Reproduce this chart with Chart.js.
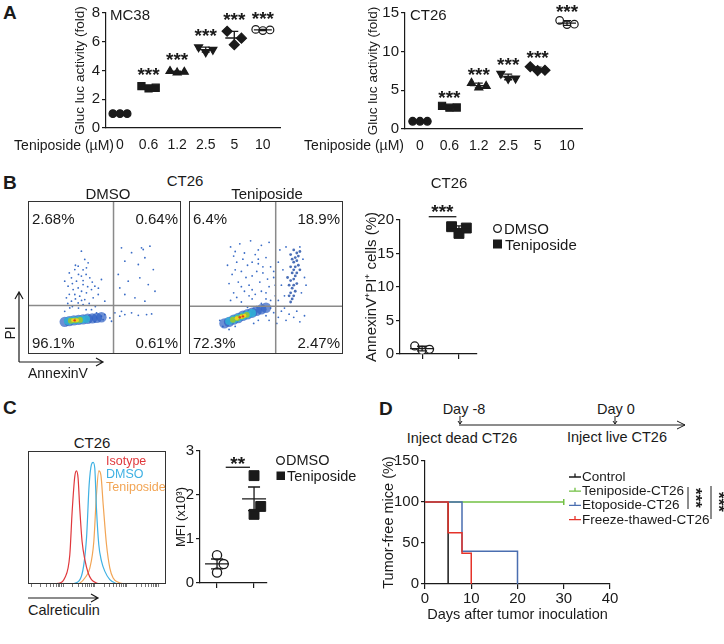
<!DOCTYPE html>
<html>
<head>
<meta charset="utf-8">
<title>Teniposide panels</title>
<script src="https://cdn.jsdelivr.net/npm/chart.js@4.4.1/dist/chart.umd.min.js"></script>
<style>
  body { margin: 0; width: 724px; height: 644px; position: relative; overflow: hidden; background: #fff;
         font-family: "Liberation Sans", Arial, sans-serif; color: #1a1a1a; }
  canvas, .lbl, svg { position: absolute; }
  .lbl { white-space: nowrap; line-height: 1; font-size: 14px; }
</style>
</head>
<body>
<svg id="marks" width="724" height="644" style="left:0;top:0" fill="none" stroke="#1a1a1a" stroke-width="1.2"></svg>
<script>
// ---------- data ----------
// A: Gluc luc activity (fold), three wells per dose
const doses = ['0', '0.6', '1.2', '2.5', '5', '10'];
const mc38Fold = [[1.0, 1.0, 1.0], [2.92, 2.75, 2.8], [3.95, 3.85, 3.9], [5.62, 5.28, 5.45], [6.73, 5.8, 6.25], [6.86, 6.78, 6.82]];
const ct26Fold = [[1.0, 1.0, 1.0], [3.0, 2.75, 2.78], [5.95, 5.35, 5.55], [7.15, 6.5, 6.55], [8.05, 7.55, 7.6], [14.05, 13.5, 13.55]];
const mc38Ticks = [0, 2, 4, 6, 8];
const ct26Ticks = [0, 5, 10, 15];

// B: flow quadrants (AnnexinV x, PI y on a 0-100 display scale)
const quadDmso = ['2.68%', '0.64%', '96.1%', '0.61%'];
const quadTeni = ['6.4%', '18.9%', '72.3%', '2.47%'];
const gateDmso = [55.9, 31.7];
const gateTeni = [56.3, 31.2];
const flowDmsoSparse = [
  [34.9, 67.2], [37.1, 61.8], [32.8, 57.4], [30.6, 55.2], [38.2, 56.3], [28.4, 49.8], [31.7, 47.6], [34.9, 50.9],
  [40.4, 49.8], [26.2, 44.3], [29.5, 42.1], [32.8, 43.2], [36.0, 45.4], [30.6, 38.9], [33.8, 37.8], [38.2, 40.0],
  [41.5, 42.1], [25.1, 36.7], [28.4, 34.5], [32.8, 33.4], [37.1, 35.6], [42.6, 36.7], [45.9, 38.9], [27.3, 30.1],
  [36.0, 32.3], [50.2, 34.5], [24.0, 47.6], [39.3, 59.6], [43.7, 44.3], [48.0, 48.7], [27, 53], [33, 52], [36, 55],
  [29, 46], [35, 41], [39, 44], [27, 39], [31, 36], [35, 35], [40, 33], [44, 31], [29, 31], [33, 30], [38, 29],
  [31, 58], [36, 48], [42, 47], [46, 43], [26, 33], [38, 52],
  [61.1, 69.4], [67.7, 66.2], [74.2, 69.4], [79.7, 70.5], [63.3, 60.7], [72.1, 58.5], [76.4, 62.9], [81.9, 55.2],
  [59.0, 52.0], [65.5, 47.6], [73.1, 49.8], [78.6, 45.4], [63.3, 38.9], [69.9, 36.7], [76.4, 34.5], [83.0, 41.0],
  [60.0, 43.2], [75.3, 68.3],
  [50.2, 25.8], [53.5, 23.6], [56.8, 26.9], [60.0, 24.7], [63.3, 25.8], [67.7, 26.9], [72.1, 25.3], [77.5, 25.8],
  [80.8, 26.2], [54.6, 21.4], [61.1, 27.9], [24.0, 27.9], [41.5, 29.0], [44.8, 26.9], [48.0, 24.7], [25.1, 19.2],
  [43.7, 21.0], [49.1, 22.5]
];
const flowDmsoCore = [
  [[30.5, 22]],
  [[29.5, 22], [32, 22.1]],
  [[28, 21.8], [31, 22], [34, 22.3]],
  [[26, 21.5], [29, 22], [32, 22.2], [35, 22.5], [38, 22.8]],
  [[24, 21], [27, 21.5], [30, 22], [33, 22.3], [36, 22.6], [39, 23], [42, 23.3], [45, 23.6], [48, 24]]
];
const flowTeniSparse = [
  [27, 70], [33, 72], [40, 74], [47, 71], [52, 73], [29, 64], [36, 66], [43, 65], [50, 63], [25, 58], [31, 60],
  [38, 58], [45, 59], [53, 57], [28, 52], [34, 54], [41, 51], [48, 53], [55, 50], [26, 46], [32, 47], [39, 45],
  [46, 47], [52, 44], [29, 40], [36, 41], [43, 39], [50, 40], [56, 38], [27, 35], [34, 34], [41, 36], [47, 33],
  [53, 35], [38, 30.5], [44, 31], [30, 67], [45, 68], [35, 62], [41, 60], [48, 57], [30, 55], [37, 50], [44, 54],
  [51, 49], [34, 44], [41, 42], [47, 41], [31, 37], [39, 38], [50, 36], [45, 62], [56, 45], [55, 54],
  [58, 60], [61, 55], [60, 45], [62, 38], [74, 62], [75, 50], [73, 40], [59, 68], [63, 70], [72, 70], [76, 45], [58, 35],
  [55, 27], [58, 24], [60, 28], [63, 22], [65, 26], [68, 24], [70, 28], [72, 21], [62, 30], [57, 20], [52, 22], [75, 25],
  [22, 18], [26, 16], [45, 22], [50, 25], [53, 30], [20, 22], [30, 18], [42, 20]
];
const flowTeniColumn = [
  [66, 34], [67, 36], [65, 38], [68, 38], [66, 40], [69, 41], [67, 43], [65, 45], [68, 45], [70, 46], [66, 48],
  [68, 49], [69, 51], [67, 53], [70, 53], [68, 55], [66, 57], [69, 57], [71, 58], [68, 60], [70, 61], [69, 63],
  [71, 64], [67, 62], [70, 66], [72, 67], [64, 50], [72, 55], [66, 65], [68, 68]
];
const flowTeniCore = [
  [[33, 24], [35, 24.6]],
  [[31, 23.3], [34, 24.4], [36, 25]],
  [[28.5, 22.4], [31.5, 23.5], [34.5, 24.6], [37.5, 25.6]],
  [[26, 21.5], [29, 22.6], [32, 23.7], [35, 24.8], [38, 25.8], [41, 26.8]],
  [[23, 20], [26, 21], [29, 22.5], [32, 23.5], [35, 25], [38, 26], [41, 27], [44, 28.2], [47, 29.2], [50, 30.2]]
];

// B right: AnnexinV+PI+ cells (%)
const groups = ['DMSO', 'Teniposide'];
const apoDmso = [1.2, 0.55, 0.7];
const apoTeni = [19.0, 18.0, 18.8];
const apoTicks = [0, 5, 10, 15, 20];

// C: calreticulin histograms (channel on 0-100 display scale, % of max)
const histIsotype = [[18, 0], [22, 0.5], [26.6, 4.5], [30.3, 22], [32, 54.5], [33.9, 80.8], [35.1, 85], [36.3, 79.5],
  [37.5, 57], [39.2, 32], [41.2, 18.3], [43.6, 8.3], [46, 3.3], [49.6, 0.8], [53.3, 0]];
const histDmso = [[32, 0], [33.9, 0.5], [38.7, 5.8], [42.4, 34.5], [44.3, 74.5], [46, 90], [47.2, 91.5], [48.4, 87],
  [49.6, 57], [51.3, 29.5], [53.3, 17], [55.7, 9.5], [59.3, 3.3], [63, 0.8], [66.6, 0]];
const histTeniposide = [[36, 0], [37.5, 0.5], [41.2, 4.5], [44.8, 12], [47.7, 32], [49.6, 67], [51.3, 85], [52.8, 82],
  [54.5, 59.5], [56.9, 29.5], [59.3, 12], [61.7, 4.5], [65.4, 1.3], [70.2, 0]];
const histNames = ['Isotype', 'DMSO', 'Teniposide'];
const mfiDmso = [0.63, 0.43, 0.24];
const mfiTeni = [2.44, 1.74, 1.56];
const mfiTicks = [0, 1, 2, 3];

// D: tumor-free survival
const kmNames = ['Control', 'Teniposide-CT26', 'Etoposide-CT26', 'Freeze-thawed-CT26'];
const kmControl = [[0, 100], [5, 0]];
const kmTeniposide = [[0, 100], [30, 100]];
const kmEtoposide = [[0, 100], [8, 40], [20, 0]];
const kmFreeze = [[0, 100], [5, 62.5], [8, 37.5], [10, 0]];
const kmCensored = [null, 30, null, null];
const kmDayTicks = [0, 10, 20, 30, 40];
const kmPctTicks = [0, 50, 100, 150];

// ---------- helpers ----------
const ink = '#1a1a1a';
const FONT = '"Liberation Sans", Arial, sans-serif';
Chart.defaults.font.family = FONT;
Chart.defaults.color = ink;
Chart.defaults.animation = false;
Chart.defaults.responsive = false;
Chart.defaults.plugins.legend.display = false;
Chart.defaults.plugins.tooltip.enabled = false;

function mk(left, top, w, h) {
  const c = document.createElement('canvas');
  c.width = w; c.height = h;
  c.style.left = left + 'px'; c.style.top = top + 'px';
  document.body.appendChild(c);
  return c;
}

function label(text, x, y, o = {}) {
  const d = document.createElement('div');
  d.className = 'lbl';
  d.textContent = text;
  d.style.left = x + 'px';
  d.style.top = y + 'px';
  d.style.fontSize = (o.size || 14) + 'px';
  if (o.bold) d.style.fontWeight = 'bold';
  if (o.color) d.style.color = o.color;
  const tx = o.align === 'c' ? '-50%' : o.align === 'r' ? '-100%' : '0';
  d.style.transform = 'translate(' + tx + ',-50%)' + (o.rot ? ' rotate(' + o.rot + 'deg)' : '');
  document.body.appendChild(d);
}

const svg = document.getElementById('marks');
function draw(tag, attrs) {
  const el = document.createElementNS('http://www.w3.org/2000/svg', tag);
  for (const k in attrs) el.setAttribute(k, attrs[k]);
  svg.appendChild(el);
}

const mean = a => a.reduce((s, v) => s + v, 0) / a.length;
const sd = a => { const m = mean(a); return Math.sqrt(a.reduce((s, v) => s + (v - m) ** 2, 0) / (a.length - 1)); };

// mean line + error bar per group
const meanBars = {
  id: 'meanBars',
  afterDatasetsDraw(chart, args, o) {
    const {ctx, scales: {x, y}} = chart;
    ctx.save();
    ctx.strokeStyle = ink;
    ctx.lineWidth = 1.3;
    (o.groups || []).forEach((vals, i) => {
      const m = mean(vals);
      const e = o.sem ? sd(vals) / Math.sqrt(vals.length) : sd(vals);
      const cx = x.getPixelForValue(i);
      const pm = y.getPixelForValue(m), lo = y.getPixelForValue(m - e), hi = y.getPixelForValue(m + e);
      ctx.beginPath();
      ctx.moveTo(cx - o.halfWidth, pm); ctx.lineTo(cx + o.halfWidth, pm);
      if (e > 0) {
        ctx.moveTo(cx, lo); ctx.lineTo(cx, hi);
        ctx.moveTo(cx - o.capWidth, lo); ctx.lineTo(cx + o.capWidth, lo);
        ctx.moveTo(cx - o.capWidth, hi); ctx.lineTo(cx + o.capWidth, hi);
      }
      ctx.stroke();
    });
    ctx.restore();
  }
};

// significance stars and bars, in data units
const annot = {
  id: 'annot',
  afterDatasetsDraw(chart, args, o) {
    const {ctx, scales: {x, y}} = chart;
    ctx.save();
    ctx.fillStyle = ink; ctx.strokeStyle = ink; ctx.lineWidth = 1.3;
    ctx.textAlign = 'center'; ctx.textBaseline = 'middle';
    ctx.font = o.font || 'bold 19px ' + FONT;
    (o.lines || []).forEach(l => {
      ctx.beginPath();
      ctx.moveTo(x.getPixelForValue(l.x1), y.getPixelForValue(l.y));
      ctx.lineTo(x.getPixelForValue(l.x2), y.getPixelForValue(l.y));
      ctx.stroke();
    });
    (o.labels || []).forEach(t => ctx.fillText(t.text, x.getPixelForValue(t.x), y.getPixelForValue(t.y) - t.dy));
    ctx.restore();
  }
};

// box around the plot and optional quadrant gate
const frame = {
  id: 'frame',
  afterDatasetsDraw(chart, args, o) {
    const {ctx, chartArea: a, scales} = chart;
    ctx.save();
    if (o.gate) {
      ctx.strokeStyle = '#8a8a8a'; ctx.lineWidth = 1.5;
      const gx = scales.x.getPixelForValue(o.gate[0]), gy = scales.y.getPixelForValue(o.gate[1]);
      ctx.beginPath();
      ctx.moveTo(gx, a.top); ctx.lineTo(gx, a.bottom);
      ctx.moveTo(a.left, gy); ctx.lineTo(a.right, gy);
      ctx.stroke();
    }
    ctx.strokeStyle = '#333'; ctx.lineWidth = 1;
    ctx.strokeRect(a.left + 0.5, a.top + 0.5, a.width - 1, a.height - 1);
    ctx.restore();
  }
};

function valueAxis(ticks, title, width, tsize, tpad) {
  return {
    min: ticks[0], max: ticks[ticks.length - 1],
    afterBuildTicks: s => { s.ticks = ticks.map(v => ({value: v})); },
    ticks: {font: {size: 15}, color: ink, padding: 2},
    grid: {drawOnChartArea: false, tickLength: 4, color: ink, lineWidth: 1.2},
    border: {color: ink, width: 1.2},
    title: {display: true, text: title, font: {size: tsize}, color: ink, padding: {top: tpad, bottom: 0}},
    afterFit: s => { s.width = width; }
  };
}

function groupAxis(min, max, n, height) {
  return {
    type: 'linear', min, max,
    afterBuildTicks: s => { s.ticks = Array.from({length: n}, (_, i) => ({value: i})); },
    ticks: {display: false},
    grid: {drawOnChartArea: false, tickLength: 5, color: ink, lineWidth: 1.2},
    border: {color: ink, width: 1.2},
    afterFit: s => { s.height = height; }
  };
}

// ---------- A ----------
const jitterA = [-0.25, 0, 0.25];
const markerStyle = ['circle', 'rect', 'triangle', 'triangle', 'rectRot', 'circle'];
const markerRot = [0, 0, 0, 180, 0, 0];
const markerSize = [3.8, 5, 4.6, 4.6, 5, 3.8];
const markerOpen = [false, false, false, false, false, true];

function doseSets(vals) {
  return vals.map((g, i) => ({
    data: g.map((v, j) => ({x: i + jitterA[j], y: v})),
    pointStyle: markerStyle[i], rotation: markerRot[i], pointRadius: markerSize[i],
    backgroundColor: markerOpen[i] ? '#fff' : ink, borderColor: ink, borderWidth: 1.2
  }));
}
function doseAxis(min, max) {
  return {
    type: 'linear', min, max,
    afterBuildTicks: s => { s.ticks = doses.map((d, i) => ({value: i})); },
    ticks: {callback: v => doses[v], font: {size: 14}, color: ink, padding: 9, maxRotation: 0, autoSkip: false},
    grid: {drawOnChartArea: false, drawTicks: false},
    border: {color: ink, width: 1.2},
    afterFit: s => { s.height = 30; }
  };
}
function starsFor(vals, dy) {
  return vals.slice(1).map((g, k) => ({x: k + 1, y: Math.max(...g, mean(g) + sd(g)), text: '***', dy}));
}

new Chart(mk(68, 0, 222, 158), {
  type: 'scatter',
  data: {datasets: doseSets(mc38Fold)},
  options: {
    layout: {autoPadding: false, padding: {top: 13, right: 10, left: 0, bottom: 0}},
    scales: {x: doseAxis(-0.49, 5.6), y: valueAxis(mc38Ticks, 'Gluc luc activity (fold)', 38, 13.5, 4)},
    plugins: {meanBars: {groups: mc38Fold, halfWidth: 9, capWidth: 4}, annot: {labels: starsFor(mc38Fold, 10)}}
  },
  plugins: [meanBars, annot]
});

new Chart(mk(361, 0, 231, 159), {
  type: 'scatter',
  data: {datasets: doseSets(ct26Fold)},
  options: {
    layout: {autoPadding: false, padding: {top: 13, right: 10, left: 0, bottom: 0}},
    scales: {x: doseAxis(-0.51, 5.51), y: valueAxis(ct26Ticks, 'Gluc luc activity (fold)', 44, 13.5, 4)},
    plugins: {meanBars: {groups: ct26Fold, halfWidth: 9, capWidth: 4}, annot: {labels: starsFor(ct26Fold, 7.5)}}
  },
  plugins: [meanBars, annot]
});

// ---------- B flow plots ----------
const densColor = ['#e3391f', '#f0d21c', '#8cc63f', 'rgba(49,179,214,0.85)', 'rgba(45,95,195,0.7)'];
const densSize = [1.2, 2, 2.9, 3.9, 5.2];

function flowSets(core, column, sparse) {
  const sets = core.map((pts, k) => ({
    data: pts.map(p => ({x: p[0], y: p[1]})), pointRadius: densSize[k], backgroundColor: densColor[k], borderWidth: 0
  }));
  if (column) sets.push({data: column.map(p => ({x: p[0], y: p[1]})), pointRadius: 1.4, backgroundColor: 'rgba(30,75,165,0.8)', borderWidth: 0});
  sets.push({data: sparse.map(p => ({x: p[0], y: p[1]})), pointRadius: 0.9, backgroundColor: '#3a6cc6', borderWidth: 0});
  return sets;
}
function flowChart(canvas, sets, gate) {
  return new Chart(canvas, {
    type: 'scatter',
    data: {datasets: sets},
    options: {
      layout: {autoPadding: false, padding: 0},
      scales: {x: {display: false, min: 0, max: 100}, y: {display: false, min: 0, max: 100}},
      plugins: {frame: {gate}}
    },
    plugins: [frame]
  });
}
flowChart(mk(28, 201, 153, 153), flowSets(flowDmsoCore, null, flowDmsoSparse), gateDmso);
flowChart(mk(189, 201, 154, 153), flowSets(flowTeniCore, flowTeniColumn, flowTeniSparse), gateTeni);

// ---------- B right: AnnexinV+PI+ ----------
const jitterB = [-0.2, 0, 0.2];
new Chart(mk(360, 195, 121, 170), {
  type: 'scatter',
  data: {datasets: [
    {data: apoDmso.map((v, j) => ({x: jitterB[j], y: v})), pointStyle: 'circle', pointRadius: 4,
     backgroundColor: '#fff', borderColor: ink, borderWidth: 1.3},
    {data: apoTeni.map((v, j) => ({x: 1 + jitterB[j], y: v})), pointStyle: 'rect', pointRadius: 7,
     backgroundColor: ink, borderColor: ink, borderWidth: 1}
  ]},
  options: {
    layout: {autoPadding: false, padding: {top: 25, right: 4, left: 0, bottom: 0}},
    scales: {x: groupAxis(-0.6, 1.49, 2, 10), y: valueAxis(apoTicks, 'AnnexinV\u207API\u207A cells (%)', 40, 15, 3)},
    plugins: {
      meanBars: {groups: [apoDmso, apoTeni], halfWidth: 12, capWidth: 5},
      annot: {lines: [{x1: 0.18, x2: 0.93, y: 20.49}], labels: [{x: 0.55, y: 20.49, text: '***', dy: 4}]}
    }
  },
  plugins: [meanBars, annot]
});

// ---------- C histogram ----------
const histColors = ['#e0383c', '#3fb1e3', '#f2a555'];
new Chart(mk(28, 451, 138, 138), {
  type: 'line',
  data: {datasets: [histIsotype, histDmso, histTeniposide].map((s, i) => ({
    label: histNames[i], data: s.map(p => ({x: p[0], y: p[1]})), borderColor: histColors[i],
    borderWidth: 1.2, pointRadius: 0, fill: false, cubicInterpolationMode: 'monotone'
  }))},
  options: {
    layout: {autoPadding: false, padding: 0},
    scales: {
      x: {type: 'linear', min: 0, max: 100,
          afterBuildTicks: s => {
            const t = [];
            [2.4, 25.4, 48.4, 71.4, 94.4].forEach(d => { for (let k = 1; k < 10; k++) { const v = d + 23 * Math.log10(k); if (v < 100) t.push({value: v}); } });
            s.ticks = t;
          },
          ticks: {display: false}, grid: {drawOnChartArea: false, tickLength: 3, color: '#555', lineWidth: 0.8},
          border: {display: false}, afterFit: s => { s.height = 5; }},
      y: {display: false, min: 0, max: 100}
    },
    plugins: {frame: {}}
  },
  plugins: [frame]
});

// ---------- C right: MFI ----------
const jitterC = [0, 0.18, 0];
new Chart(mk(170, 439, 101, 155), {
  type: 'scatter',
  data: {datasets: [
    {data: mfiDmso.map((v, j) => ({x: jitterC[j], y: v})), pointStyle: 'circle', pointRadius: 4.6,
     backgroundColor: '#fff', borderColor: ink, borderWidth: 1.3},
    {data: mfiTeni.map((v, j) => ({x: 1 + jitterC[j], y: v})), pointStyle: 'rect', pointRadius: 7,
     backgroundColor: ink, borderColor: ink, borderWidth: 1}
  ]},
  options: {
    layout: {autoPadding: false, padding: {top: 12, right: 4, left: 0, bottom: 0}},
    scales: {x: groupAxis(-0.46, 1.35, 2, 10), y: valueAxis(mfiTicks, 'MFI (x10\u00B3)', 30, 13, 4)},
    plugins: {
      meanBars: {groups: [mfiDmso, mfiTeni], halfWidth: 12, capWidth: 6, sem: true},
      annot: {lines: [{x1: 0.235, x2: 0.89, y: 2.63}], labels: [{x: 0.56, y: 2.63, text: '**', dy: 3}]}
    }
  },
  plugins: [meanBars, annot]
});

// ---------- D: Kaplan-Meier ----------
const kmColors = ['#1a1a1a', '#72c043', '#4a6eb0', '#e5332a'];
const kmSeries = [kmControl, kmTeniposide, kmEtoposide, kmFreeze];
new Chart(mk(377, 449, 243, 175), {
  type: 'line',
  data: {datasets: kmSeries.map((s, i) => ({
    label: kmNames[i], data: s.map(p => ({x: p[0], y: p[1]})), stepped: 'before',
    borderColor: kmColors[i], borderWidth: 1.5, fill: false,
    pointStyle: 'line', rotation: 90, pointBorderColor: kmColors[i], pointBorderWidth: 1.5,
    pointRadius: c => (kmCensored[i] !== null && c.raw && c.raw.x === kmCensored[i]) ? 3 : 0
  })).reverse()},
  options: {
    layout: {autoPadding: false, padding: {top: 12, right: 10, left: 0, bottom: 0}},
    scales: {
      x: {type: 'linear', min: kmDayTicks[0], max: kmDayTicks[kmDayTicks.length - 1],
          afterBuildTicks: s => { s.ticks = kmDayTicks.map(v => ({value: v})); },
          ticks: {font: {size: 15}, color: ink, padding: 1, maxRotation: 0},
          grid: {drawOnChartArea: false, tickLength: 5, color: ink, lineWidth: 1.2},
          border: {color: ink, width: 1.2},
          title: {display: true, text: 'Days after tumor inoculation', font: {size: 14.5}, color: ink, padding: {top: 0, bottom: 0}},
          afterFit: s => { s.height = 40; }},
      y: valueAxis(kmPctTicks, 'Tumor-free mice (%)', 48, 14.5, 3)
    }
  }
});

// ---------- text and hand-drawn marks ----------
label('A', 3, 12, {size: 19, bold: true});
label('B', 3, 182, {size: 19, bold: true});
label('C', 3, 407, {size: 19, bold: true});
label('D', 379, 408, {size: 19, bold: true});

label('MC38', 110, 14, {size: 15});
label('CT26', 410, 14, {size: 15});
label('Teniposide (\u00B5M)', 114, 145, {align: 'r'});
label('Teniposide (\u00B5M)', 404, 145, {align: 'r'});

label('CT26', 185, 180, {size: 15, align: 'c'});
label('DMSO', 108, 193, {size: 15, align: 'c'});
label('Teniposide', 267, 193, {size: 15, align: 'c'});
[[quadDmso, 32, 178], [quadTeni, 193, 340]].forEach(([q, l, r]) => {
  label(q[0], l, 218, {size: 15});
  label(q[1], r, 218, {size: 15, align: 'r'});
  label(q[2], l, 342, {size: 15});
  label(q[3], r, 342, {size: 15, align: 'r'});
});
label('PI', 10, 333, {size: 14, align: 'c', rot: -90});
label('AnnexinV', 28, 373, {size: 14});
draw('path', {d: 'M19 362 V292 M15 299 L19 292 L23 299 M19 362 H103 M96 358 L103 362 L96 366'});

label('CT26', 449, 182, {size: 15, align: 'c'});
draw('circle', {cx: 497.5, cy: 228.5, r: 3.8, 'stroke-width': 1.3});
label(groups[0], 504, 228, {size: 15});
draw('rect', {x: 493, y: 239.5, width: 9, height: 9, fill: ink, stroke: 'none'});
label(groups[1], 505, 244, {size: 15});

label('CT26', 92, 442, {size: 15, align: 'c'});
histNames.forEach((n, i) => label(n, 106, 461 + i * 13, {size: 12.5, color: histColors[i]}));
label('Calreticulin', 28, 610, {size: 14.5});
draw('path', {d: 'M28 598 H98 M91 594 L98 598 L91 602'});

draw('circle', {cx: 280.5, cy: 460.5, r: 3.8, 'stroke-width': 1.3});
label(groups[0], 286, 460, {size: 14.5});
draw('rect', {x: 276.5, y: 471.5, width: 8.5, height: 8.5, fill: ink, stroke: 'none'});
label(groups[1], 287, 476, {size: 14.5});

// D timeline
label('Day -8', 464, 409, {size: 14.5, align: 'c'});
label('Day 0', 616, 409, {size: 14.5, align: 'c'});
label('Inject dead CT26', 462, 438, {size: 14.5, align: 'c'});
label('Inject live CT26', 617, 437, {size: 14.5, align: 'c'});
draw('path', {d: 'M459 425 H685 M677 421 L685 425 L677 429 M460 416 V424 M458 421 L460 424 L462 421 M615 416 V424 M613 421 L615 424 L617 421', 'stroke-width': 1});

// D legend and significance
kmNames.forEach((n, i) => {
  const yc = 477 + i * 14.2;
  draw('path', {d: 'M569 ' + yc + ' H581 M575 ' + yc + ' V' + (yc - 3.5), stroke: kmColors[i], 'stroke-width': 1.3});
  label(n, 582, yc, {size: 13.5});
});
draw('path', {d: 'M688 487 V509 M711 486 V519', 'stroke-width': 1});
label('***', 695, 498, {size: 17, bold: true, align: 'c', rot: 90});
label('***', 718, 502, {size: 17, bold: true, align: 'c', rot: 90});
</script>
</body>
</html>
